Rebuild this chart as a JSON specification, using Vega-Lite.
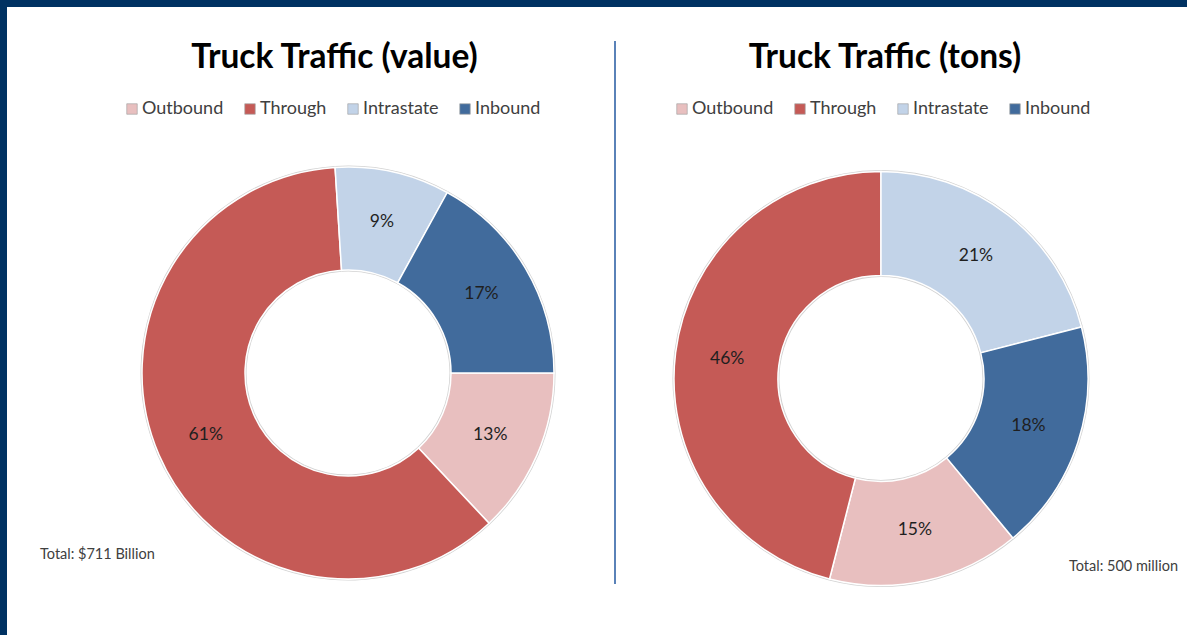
{
  "$schema": "https://vega.github.io/schema/vega-lite/v6.json",
  "padding": 0,
  "background": "white",
  "config": {"view": {"stroke": null}, "font": "Lato"},
  "datasets": {
    "traffic": [
      {"chart": "value", "flow": "Outbound", "share": 0.13, "ord": 1},
      {"chart": "value", "flow": "Through", "share": 0.61, "ord": 2},
      {"chart": "value", "flow": "Intrastate", "share": 0.09, "ord": 3},
      {"chart": "value", "flow": "Inbound", "share": 0.17, "ord": 4},
      {"chart": "tons", "flow": "Outbound", "share": 0.15, "ord": 1},
      {"chart": "tons", "flow": "Through", "share": 0.46, "ord": 2},
      {"chart": "tons", "flow": "Intrastate", "share": 0.21, "ord": 3},
      {"chart": "tons", "flow": "Inbound", "share": 0.18, "ord": 4}
    ]
  },
  "spacing": 0,
  "hconcat": [
    {
      "width": 7, "height": 635,
      "data": {"values": [{}]},
      "mark": {"type": "rect", "color": "#003262"},
      "encoding": {}
    },
    {
      "spacing": 33,
      "vconcat": [
        {
          "width": 1180, "height": 7,
          "data": {"values": [{}]},
          "mark": {"type": "rect", "color": "#003262"},
          "encoding": {}
        },
        {
          "hconcat": [
            {
              "width": 607, "height": 560,
              "title": {"text": "Truck Traffic (value)", "frame": "group", "fontSize": 33.5, "font": "Lato", "fontWeight": "bold", "color": "#000000", "offset": -34, "dx": 24},
              "layer": [
                {
                  "data": {"name": "traffic"},
                  "transform": [{"filter": "datum.chart == 'value'"}],
                  "encoding": {
                    "x": {"field": "chart", "type": "nominal", "scale": {"type": "point", "align": 0.5618}, "axis": null},
                    "y": {"field": "chart", "type": "nominal", "scale": {"type": "point", "align": 0.5929}, "axis": null},
                    "theta": {"field": "share", "type": "quantitative", "stack": true, "scale": {"domain": [0, 1], "range": [1.5708, 7.854]}},
                    "order": {"field": "ord", "type": "quantitative"}
                  },
                  "layer": [
                    {
                      "mark": {"type": "arc", "radius": 207.5, "radius2": 101.5, "color": "#d2d2d2"}
                    },
                    {
                      "mark": {"type": "arc", "radius": 206, "radius2": 103, "stroke": "white", "strokeWidth": 1.5},
                      "encoding": {
                        "color": {"field": "flow", "type": "nominal",
                          "scale": {"domain": ["Outbound", "Through", "Intrastate", "Inbound"], "range": ["#e8bfbf", "#c55a56", "#c2d3e8", "#416b9c"]},
                          "legend": {"orient": "none", "legendX": 116, "legendY": 59, "direction": "horizontal", "title": null, "symbolType": "square", "symbolSize": 110, "symbolStrokeColor": "#a6a6a6", "symbolStrokeWidth": 0.7, "symbolOpacity": 1, "labelFontSize": 18, "labelFont": "Lato", "labelColor": "#404040", "columnPadding": 17, "labelOffset": 1}
                        }
                      }
                    },
                    {
                      "mark": {"type": "text", "radius": 155, "fontSize": 17.5, "font": "Lato", "color": "#1f1f1f"},
                      "encoding": {"text": {"field": "share", "type": "quantitative", "format": ".0%"}}
                    }
                  ]
                },
                {
                  "data": {"values": [{"note": "Total: $711 Billion"}]},
                  "mark": {"type": "text", "align": "left", "baseline": "bottom", "dx": 33, "dy": -39, "fontSize": 14.5, "font": "Lato", "color": "#404040"},
                  "encoding": {"x": {"value": 0}, "y": {"value": "height"}, "text": {"field": "note"}}
                }
              ]
            },
            {
              "width": 2, "height": 543,
              "data": {"values": [{}]},
              "mark": {"type": "rect", "color": "#5a82b8"},
              "encoding": {}
            },
            {
              "width": 562, "height": 560,
              "title": {"text": "Truck Traffic (tons)", "frame": "group", "fontSize": 33.5, "font": "Lato", "fontWeight": "bold", "color": "#000000", "offset": -34, "dx": -12},
              "layer": [
                {
                  "data": {"name": "traffic"},
                  "transform": [{"filter": "datum.chart == 'tons'"}],
                  "encoding": {
                    "x": {"field": "chart", "type": "nominal", "scale": {"type": "point", "align": 0.4715}, "axis": null},
                    "y": {"field": "chart", "type": "nominal", "scale": {"type": "point", "align": 0.6027}, "axis": null},
                    "theta": {"field": "share", "type": "quantitative", "stack": true, "scale": {"domain": [0, 1], "range": [2.4504, 8.7336]}},
                    "order": {"field": "ord", "type": "quantitative"}
                  },
                  "layer": [
                    {
                      "mark": {"type": "arc", "radius": 208.5, "radius2": 101.5, "color": "#d2d2d2"}
                    },
                    {
                      "mark": {"type": "arc", "radius": 207, "radius2": 103, "stroke": "white", "strokeWidth": 1.5},
                      "encoding": {
                        "color": {"field": "flow", "type": "nominal",
                          "scale": {"domain": ["Outbound", "Through", "Intrastate", "Inbound"], "range": ["#e8bfbf", "#c55a56", "#c2d3e8", "#416b9c"]},
                          "legend": {"orient": "none", "legendX": 57, "legendY": 59, "direction": "horizontal", "title": null, "symbolType": "square", "symbolSize": 110, "symbolStrokeColor": "#a6a6a6", "symbolStrokeWidth": 0.7, "symbolOpacity": 1, "labelFontSize": 18, "labelFont": "Lato", "labelColor": "#404040", "columnPadding": 17, "labelOffset": 1}
                        }
                      }
                    },
                    {
                      "mark": {"type": "text", "radius": 155, "fontSize": 17.5, "font": "Lato", "color": "#1f1f1f"},
                      "encoding": {"text": {"field": "share", "type": "quantitative", "format": ".0%"}}
                    }
                  ]
                },
                {
                  "data": {"values": [{"note": "Total: 500 million"}]},
                  "mark": {"type": "text", "align": "right", "baseline": "bottom", "dy": -27, "fontSize": 14.5, "font": "Lato", "color": "#404040"},
                  "encoding": {"x": {"value": "width"}, "y": {"value": "height"}, "text": {"field": "note"}}
                }
              ]
            }
          ],
          "spacing": 0,
          "resolve": {"scale": {"color": "independent", "theta": "independent", "x": "independent", "y": "independent"}, "legend": {"color": "independent"}}
        }
      ]
    }
  ]
}
